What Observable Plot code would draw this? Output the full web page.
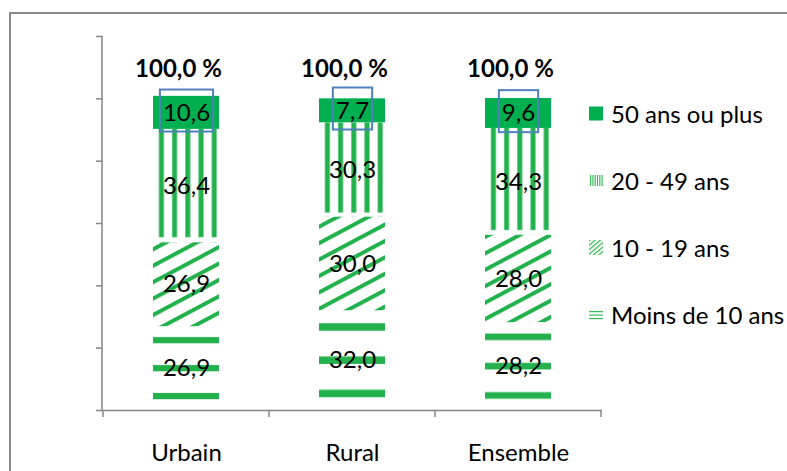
<!DOCTYPE html>
<html><head><meta charset="utf-8">
<script src="https://cdn.jsdelivr.net/npm/d3@7"></script>
<script src="https://cdn.jsdelivr.net/npm/@observablehq/plot@0.6"></script>
<style>
html,body{margin:0;padding:0;background:#fff;}
body{width:787px;height:471px;overflow:hidden;position:relative;font-family:Lato,sans-serif;}
#chart{position:absolute;left:0;top:0;}
#frame{position:absolute;left:9px;top:12px;width:820px;height:500px;border:2px solid #8c8c8c;box-sizing:border-box;pointer-events:none;}
#legend{position:absolute;left:589px;top:0;}
.row{position:absolute;left:0;display:flex;align-items:center;white-space:nowrap;font-size:24px;color:#000;height:30px;}
</style>
</head><body>
<svg width="0" height="0" style="position:absolute">
<defs>
<pattern id="p-v" patternUnits="objectBoundingBox" patternContentUnits="objectBoundingBox" width="0.2" height="1"><rect x="0.09" y="0" width="0.075" height="0.955" fill="#23B14D"/></pattern>
<pattern id="p-h" patternUnits="objectBoundingBox" patternContentUnits="objectBoundingBox" width="1" height="0.333333"><rect x="0" y="0.13" width="1" height="0.075" fill="#23B14D"/></pattern>
<pattern id="p-d" patternUnits="userSpaceOnUse" width="20" height="14.5" patternTransform="rotate(-28)"><rect x="0" y="0" width="20" height="4" fill="#23B14D"/></pattern>
<pattern id="p-dl" patternUnits="userSpaceOnUse" width="6" height="3.4" patternTransform="rotate(-40)"><rect x="0" y="0" width="6" height="1.3" fill="#3DBB5C"/></pattern>
</defs>
</svg>
<div id="chart"></div>
<div id="legend"></div>
<div id="frame"></div>
<script>
const groups = ["Urbain", "Rural", "Ensemble"];
const ages = ["Moins de 10 ans", "10 - 19 ans", "20 - 49 ans", "50 ans ou plus"];
const moins10 = [26.9, 32.0, 28.2];
const ans10_19 = [26.9, 30.0, 28.0];
const ans20_49 = [36.4, 30.3, 34.3];
const ans50plus = [10.6, 7.7, 9.6];
const totals = [100.0, 100.0, 100.0];
const yTicks = [0, 20, 40, 60, 80, 100, 120];

const series = [moins10, ans10_19, ans20_49, ans50plus];
const data = groups.flatMap((g, i) => ages.map((a, k) => ({group: g, age: a, value: series[k][i]})));
const totalData = groups.map((g, i) => ({group: g, total: totals[i]}));
const fmt = v => d3.format(".1f")(v).replace(".", ",");
const topAge = ages[ages.length - 1];

const chart = Plot.plot({
  width: 787, height: 471,
  marginTop: 36, marginBottom: 61, marginLeft: 102, marginRight: 185,
  style: {fontFamily: "Lato, sans-serif", fontSize: "24px", background: "transparent", color: "#000"},
  x: {domain: groups, padding: 0, label: null},
  y: {domain: [0, 120], label: null},
  color: {type: "ordinal", domain: ages, range: ["url(#p-h)", "url(#p-d)", "url(#p-v)", "#00B050"]},
  marks: [
    Plot.axisY({ticks: yTicks, tickSize: 6, tickFormat: () => "", stroke: "#868686", strokeWidth: 1.5, label: null}),
    Plot.axisX({tickSize: 0, tickPadding: 33, fontSize: 24, label: null, fill: "#000"}),
    Plot.barY(data, {x: "group", y: "value", z: "age", fill: "age", order: ages, insetLeft: 50, insetRight: 50}),
    Plot.ruleY([0], {stroke: "#868686", strokeWidth: 1.5}),
    Plot.text(data, Plot.stackY({x: "group", y: "value", z: "age", order: ages,
      text: d => d.age === topAge ? null : fmt(d.value), fontSize: 24, fill: "#000"})),
    Plot.text(data, Plot.stackY({x: "group", y: "value", z: "age", order: ages,
      text: d => d.age === topAge ? fmt(d.value) : null, fontSize: 24, fill: "#000", ariaDescription: "top-labels"})),
    Plot.text(totalData, {x: "group", y: "total", text: d => fmt(d.total) + " %", fontWeight: "bold", fontSize: 24, dy: -30, dx: -8, fill: "#000"})
  ]
});
document.getElementById("chart").append(chart);

// axis line and band-edge ticks derived from the plot's scales
const xs = chart.scale("x"), ys = chart.scale("y");
const svg = d3.select(chart);
const yb = ys.apply(0), yt = ys.apply(120);
const ax = svg.append("g").attr("stroke", "#868686").attr("stroke-width", 1.5);
ax.append("line").attr("x1", xs.range[0]).attr("x2", xs.range[0]).attr("y1", yt).attr("y2", yb);
const edges = groups.map(g => xs.apply(g)).concat([xs.apply(groups[groups.length - 1]) + xs.bandwidth]);
edges.forEach(e => ax.append("line").attr("x1", e).attr("x2", e).attr("y1", yb).attr("y2", yb + 7));

// blue boxes around top-segment labels
svg.selectAll('g[aria-description="top-labels"] text').each(function () {
  const b = this.getBBox();
  d3.select(this.parentNode).append("rect")
    .attr("transform", this.getAttribute("transform"))
    .attr("x", b.x - 3).attr("y", b.y - 7)
    .attr("width", b.width + 6).attr("height", b.height + 13)
    .attr("fill", "none").attr("stroke", "#4F81BD").attr("stroke-width", 2);
});

// legend
const legend = d3.select("#legend");
[...ages].reverse().forEach((a, i) => {
  const row = legend.append("div").attr("class", "row").style("top", (98 + i * 67) + "px");
  const sw = row.append("svg").attr("width", 14).attr("height", 15).style("margin-right", "8px");
  const idx = ages.indexOf(a);
  if (idx === 3) {
    sw.append("rect").attr("x", 0).attr("y", 0.5).attr("width", 14).attr("height", 14).attr("fill", "#00B050");
  } else if (idx === 2) {
    d3.range(6).forEach(j => sw.append("rect").attr("x", 1 + j * 2.3).attr("y", 2).attr("width", 1.2).attr("height", 11).attr("fill", "#3DBB5C"));
  } else if (idx === 1) {
    sw.append("rect").attr("x", 0).attr("y", 0).attr("width", 14).attr("height", 15).attr("fill", "url(#p-dl)");
  } else {
    [4, 7.5, 11].forEach(y => sw.append("rect").attr("x", 0).attr("y", y).attr("width", 14).attr("height", 1.2).attr("fill", "#3DBB5C"));
  }
  row.append("span").text(a);
});
</script>
</body></html>
